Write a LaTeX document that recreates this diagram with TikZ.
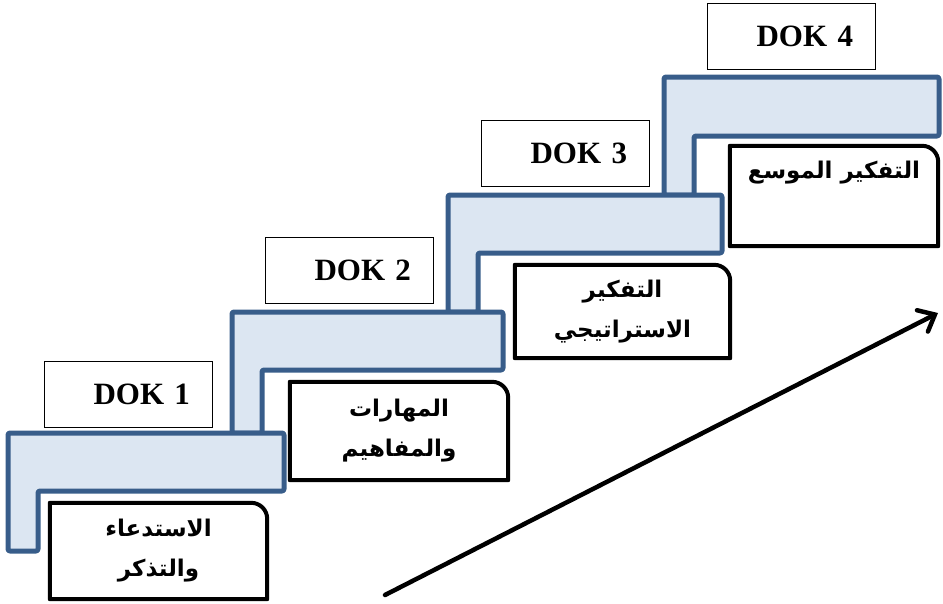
\documentclass[tikz,border=0pt]{standalone}
\usepackage{fontspec}
\setmainfont{Liberation Serif}
\newfontfamily\arabicfont[Script=Arabic]{DejaVu Sans}
\TeXXeTstate=1
\usetikzlibrary{arrows.meta}
\definecolor{stairline}{RGB}{56,93,138}
\definecolor{stairfill}{RGB}{220,230,242}
\tikzstyle{stair}=[draw=stairline,fill=stairfill,line width=5pt,line join=round,rounded corners=2pt]
\tikzstyle{dok}=[rectangle,draw,thin,fill=white,minimum width=168pt,minimum height=66pt,text width=124pt,inner xsep=22pt,align=right,font=\fontsize{31}{36}\selectfont\bfseries]
\tikzstyle{level}=[rectangle,inner sep=0pt,align=center,font=\fontsize{23}{40}\arabicfont\bfseries]
\tikzstyle{levelframe}=[draw,line width=4pt,line join=round]

\begin{document}
\begin{tikzpicture}[x=1pt,y=-1pt]
  \useasboundingbox (0,0) rectangle (943,603);
  %stairs, the top one first so that each lower step lies over the leg above it
  \draw[stair] (664,77) -- (939,77) -- (939,136) -- (694,136) -- (694,195) -- (664,195) -- cycle;
  \draw[stair] (448,195) -- (722,195) -- (722,253) -- (478,253) -- (478,312) -- (448,312) -- cycle;
  \draw[stair] (232,312) -- (503,312) -- (503,370) -- (262,370) -- (262,433) -- (232,433) -- cycle;
  \draw[stair] (8,433) -- (284,433) -- (284,491) -- (38,491) -- (38,551) -- (8,551) -- cycle;
  %\node[dok] (dok1) at(128,394){DOK 1};  DOK boxes above the steps
  \node[dok] (dok1) at (128,394) {DOK 1};
  \node[dok] (dok2) at (349,270) {DOK 2};
  \node[dok] (dok3) at (565,153) {DOK 3};
  \node[dok] (dok4) at (791,36) {DOK 4};
  %levels under the steps
  \node[level,minimum width=217pt,minimum height=96pt] (recall) at (158.5,551) {\beginR الاستدعاء\endR\\\beginR والتذكر\endR};
  \node[level,minimum width=218pt,minimum height=98pt] (skills) at (399,431) {\beginR المهارات\endR\\\beginR والمفاهيم\endR};
  \node[level,minimum width=215pt,minimum height=93pt] (strategic) at (622.5,311.5) {\beginR التفكير\endR\\\beginR الاستراتيجي\endR};
  \node[level,minimum width=208pt,minimum height=100pt] (extended) at (834,196) {\beginR التفكير الموسع\endR\\\strut};
  \draw[levelframe] (recall.south west) |- ([xshift=-16pt]recall.north east) arc[start angle=90,end angle=0,radius=16pt] -- (recall.south east) -- cycle;
  \draw[levelframe] (skills.south west) |- ([xshift=-16pt]skills.north east) arc[start angle=90,end angle=0,radius=16pt] -- (skills.south east) -- cycle;
  \draw[levelframe] (strategic.south west) |- ([xshift=-16pt]strategic.north east) arc[start angle=90,end angle=0,radius=16pt] -- (strategic.south east) -- cycle;
  \draw[levelframe] (extended.south west) |- ([xshift=-16pt]extended.north east) arc[start angle=90,end angle=0,radius=16pt] -- (extended.south east) -- cycle;
  %arrow
  \coordinate (arrowstart) at (385,595);
  \coordinate (arrowend) at (938,313);
  \draw[line width=4.5pt,line cap=round,-{Straight Barb[length=14pt,width=24pt,line cap=round]}] (arrowstart) -- (arrowend);
\end{tikzpicture}
\end{document}
